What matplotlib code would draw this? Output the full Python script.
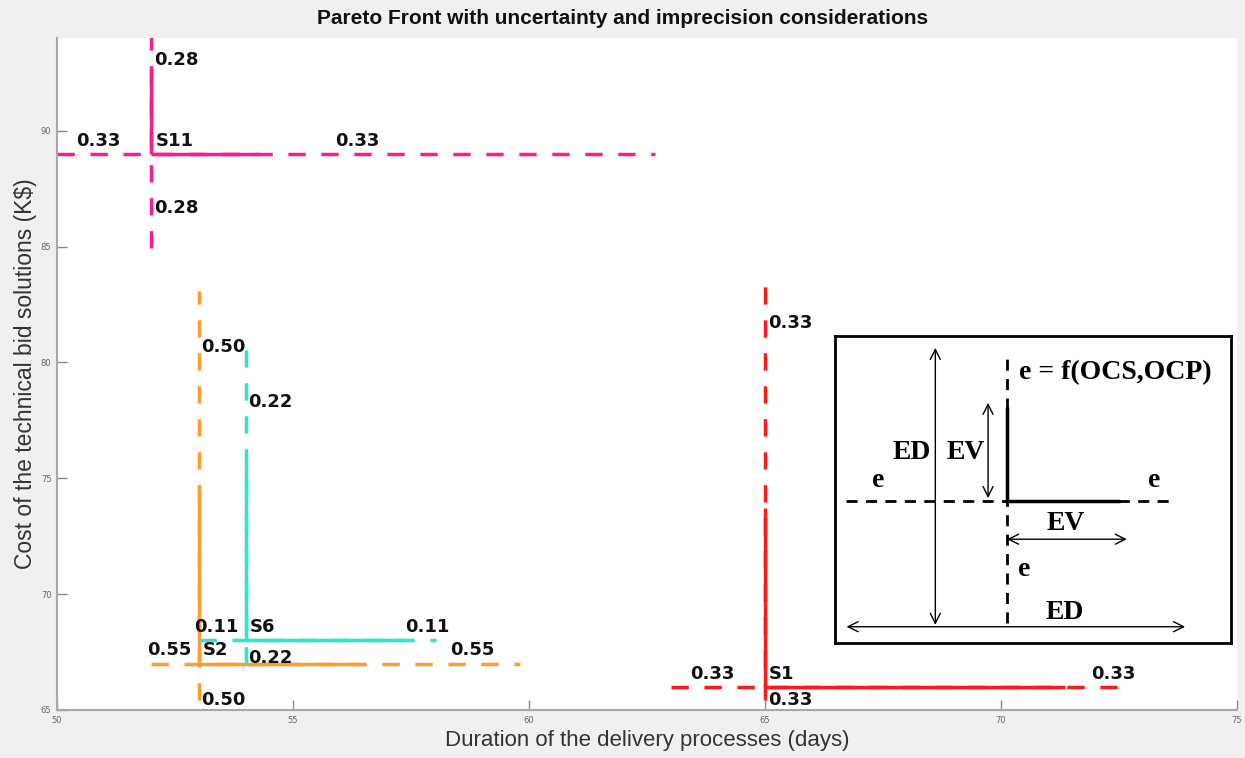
import matplotlib
matplotlib.use("Agg")
import matplotlib.pyplot as plt

# Pareto solutions: nominal duration / cost and the extents of each cross
names = ["S11", "S2", "S6", "S1"]
dur = [52, 53, 54, 65]
cost = [89, 67, 68, 66]
dur_lo = [50, 52, 53, 63]            # dashed, left end
dur_ev = [54.26, 56.37, 57.36, 71.35]  # solid, right end
dur_hi = [62.68, 59.81, 58.03, 72.74]  # dashed, right end
cost_lo = [84.93, 64.0, 67.0, 64.0]    # dashed, lower end
cost_ev = [92.69, 74.7, 75.65, 73.7]   # solid, upper end
cost_hi = [95.0, 83.1, 81.08, 83.6]    # dashed, upper end
colors = ["#ff1a90", "#ff9c2a", "#2de8c8", "#ff1a1a"]

# uncertainty / imprecision values written around each solution
val_left = ["0.33", "0.55", "0.11", "0.33"]
val_right = ["0.33", "0.55", "0.11", "0.33"]
val_top = ["0.28", "0.50", "0.22", "0.33"]
val_bot = ["0.28", "0.50", "0.22", "0.33"]
# where those values sit (data units)
tag_right_x = [56.36, 58.8, 57.84, 72.37]
tag_top_y = [93.05, 80.65, 78.3, 81.7]
tag_bot_y = [86.65, 65.43, 67.24, 65.42]

fig = plt.figure(figsize=(12.45, 7.58), dpi=100, facecolor="#f0f0f0")
ax = fig.add_axes([57 / 1245, 48 / 758, 1180 / 1245, 672 / 758])
ax.set_facecolor("white")

dash = (0, (5, 4.5))
lw = 2.5
for i in range(len(names)):
    c = colors[i]
    ax.plot([dur_lo[i], dur_hi[i]], [cost[i], cost[i]], color=c, lw=lw, linestyle=dash,
            dash_capstyle="butt")
    ax.plot([dur[i], dur[i]], [cost_lo[i], cost_hi[i]], color=c, lw=lw, linestyle=dash,
            dash_capstyle="butt")
    ax.plot([dur[i], dur_ev[i]], [cost[i], cost[i]], color=c, lw=lw, solid_capstyle="butt")
    ax.plot([dur[i], dur[i]], [cost[i], cost_ev[i]], color=c, lw=lw, solid_capstyle="butt")

    lab = dict(fontsize=13, fontweight="bold", family="DejaVu Sans", color="#111111")
    ax.annotate(names[i], (dur[i], cost[i]), xytext=(3, 3), textcoords="offset points",
                ha="left", va="bottom", **lab)
    ax.annotate(val_left[i], ((dur_lo[i] + dur[i]) / 2, cost[i]), xytext=(-4, 3),
                textcoords="offset points", ha="center", va="bottom", **lab)
    ax.annotate(val_right[i], (tag_right_x[i], cost[i]), xytext=(0, 3),
                textcoords="offset points", ha="center", va="bottom", **lab)
    ax.annotate(val_top[i], (dur[i], tag_top_y[i]), xytext=(2, 0),
                textcoords="offset points", ha="left", va="center", **lab)
    ax.annotate(val_bot[i], (dur[i], tag_bot_y[i]), xytext=(2, 0),
                textcoords="offset points", ha="left", va="center", **lab)

ax.set_xlim(50, 75)
ax.set_ylim(65, 94)
ax.set_xticks([50, 55, 60, 65, 70, 75])
ax.set_yticks([65, 70, 75, 80, 85, 90])
ax.tick_params(direction="in", length=7, width=1, colors="#888888", labelsize=6,
               labelcolor="#666666", pad=4)
for s in ["top", "right"]:
    ax.spines[s].set_visible(False)
for s in ["left", "bottom"]:
    ax.spines[s].set_color("#a8a8a8")
    ax.spines[s].set_linewidth(1.5)

ax.set_xlabel("Duration of the delivery processes (days)", fontsize=16,
              family="Liberation Sans", color="#333333", labelpad=4)
ax.set_ylabel("Cost of the technical bid solutions (K$)", fontsize=16.5,
              family="Liberation Sans", color="#333333", labelpad=3)
fig.text(0.5, 1 - 18 / 758, "Pareto Front with uncertainty and imprecision considerations",
         ha="center", va="center", fontsize=15, fontweight="bold",
         family="Liberation Sans", color="#111111")

# inset legend explaining the cross layout
ins = ax.inset_axes([0.659, 0.0997, 0.336, 0.457])
ins.set_xlim(0, 1)
ins.set_ylim(0, 1)
ins.set_xticks([])
ins.set_yticks([])
ins.set_facecolor("white")
for s in ins.spines.values():
    s.set_linewidth(2)
    s.set_color("black")

cx, cy = 0.435, 0.4635
ins.plot([0.028, 0.855], [cy, cy], color="black", lw=2, linestyle=(0, (4, 3)))
ins.plot([cx, cx], [0.065, 0.945], color="black", lw=2, linestyle=(0, (4, 3)))
ins.plot([cx, 0.719], [cy, cy], color="black", lw=2.5, solid_capstyle="butt")
ins.plot([cx, cx], [cy, 0.77], color="black", lw=2.5, solid_capstyle="butt")

arw = dict(arrowstyle="<->", color="black", lw=1, mutation_scale=18, shrinkA=0, shrinkB=0)
ins.annotate("", xy=(0.254, 0.961), xytext=(0.254, 0.059), arrowprops=arw)
ins.annotate("", xy=(0.387, 0.782), xytext=(0.387, 0.472), arrowprops=arw)
ins.annotate("", xy=(0.737, 0.338), xytext=(cx, 0.338), arrowprops=arw)
ins.annotate("", xy=(0.884, 0.053), xytext=(0.03, 0.053), arrowprops=arw)

serif = dict(family="Liberation Serif", fontweight="bold", fontsize=20, color="black")
ins.text(0.464, 0.88, "e = f(OCS,OCP)", ha="left", va="center", **serif)
ins.text(0.194, 0.62, "ED", ha="center", va="center", **serif)
ins.text(0.33, 0.62, "EV", ha="center", va="center", **serif)
ins.text(0.11, 0.53, "e", ha="center", va="center", **serif)
ins.text(0.805, 0.53, "e", ha="center", va="center", **serif)
ins.text(0.478, 0.238, "e", ha="center", va="center", **serif)
ins.text(0.584, 0.39, "EV", ha="center", va="center", **serif)
ins.text(0.58, 0.10, "ED", ha="center", va="center", **serif)

fig.savefig("out.png", dpi=100, facecolor=fig.get_facecolor())
